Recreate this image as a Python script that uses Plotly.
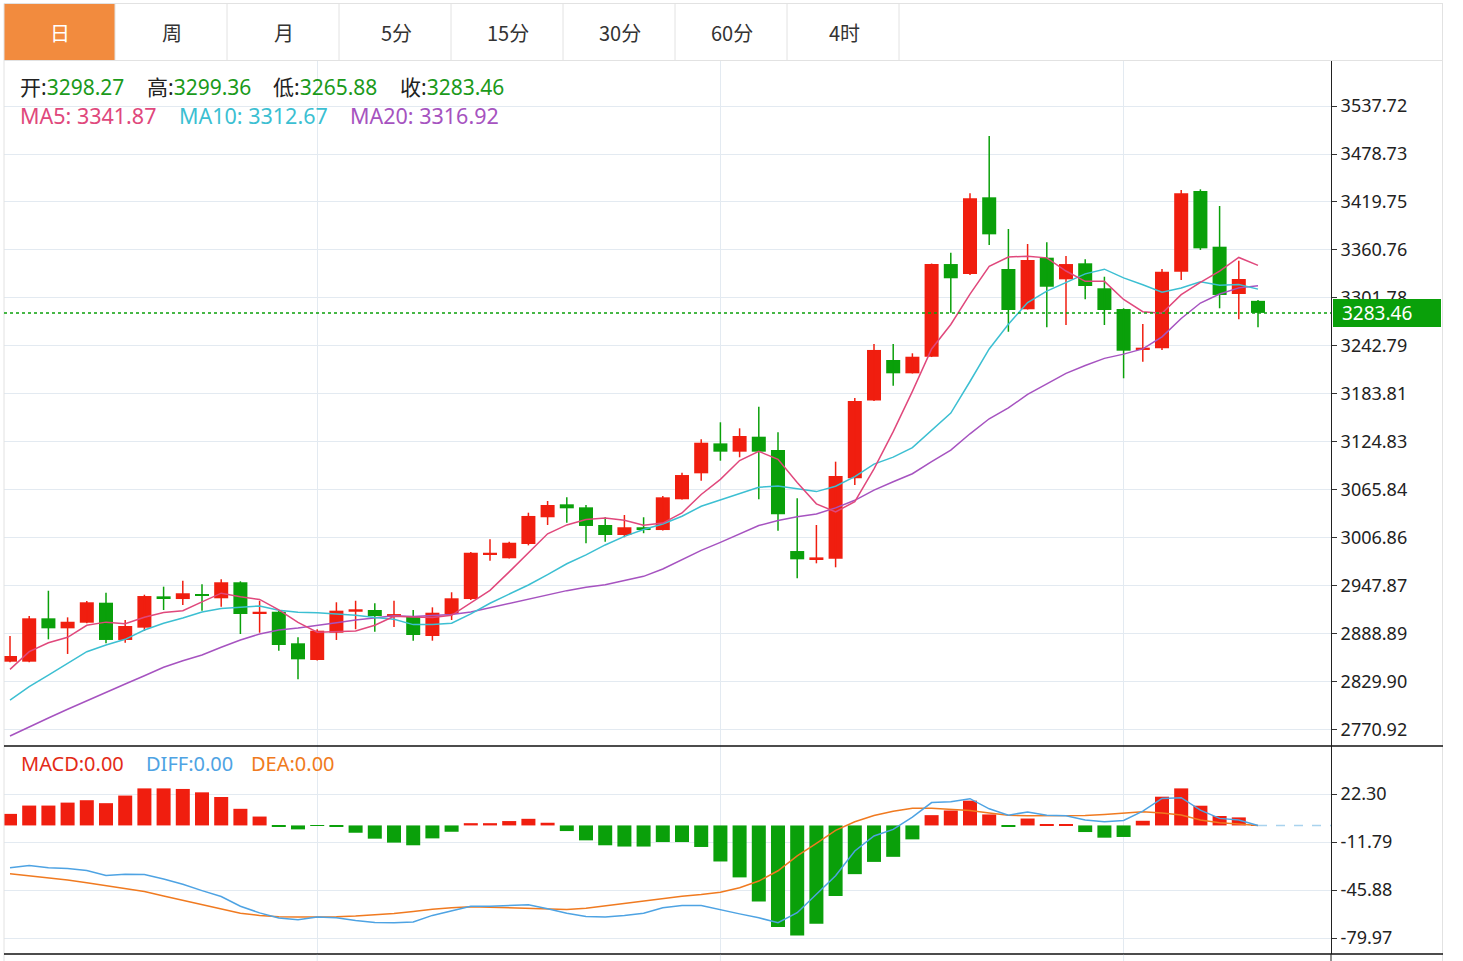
import plotly.graph_objects as go

W, H = 1463, 961

# ---------------- data ----------------
days = list(range(66))

opens = [2854.8, 2854.8, 2908.1, 2895.8, 2902.7, 2927.3, 2881.5, 2896.6, 2934.7, 2931.8,
         2938.0, 2932.7, 2952.4, 2913.4, 2916.2, 2877.4, 2856.9, 2890.4, 2916.2, 2918.3,
         2910.9, 2910.9, 2886.4, 2913.4, 2931.8, 2985.9, 2981.9, 2999.4, 3032.3, 3048.2,
         3044.5, 3022.8, 3010.5, 3020.0, 3016.6, 3054.4, 3086.3, 3123.1, 3112.9, 3131.3,
         3115.0, 2990.8, 2980.6, 2981.4, 3080.2, 3175.8, 3225.6, 3209.2, 3229.6, 3343.5,
         3331.2, 3425.5, 3337.4, 3287.9, 3351.3, 3324.7, 3344.4, 3313.7, 3288.2, 3237.9,
         3239.9, 3334.1, 3433.3, 3364.8, 3306.7, 3298.27]
highs = [2886.4, 2910.9, 2942.0, 2909.3, 2929.4, 2939.6, 2906.0, 2937.1, 2947.0, 2954.3,
         2949.9, 2956.0, 2953.6, 2929.7, 2917.5, 2884.8, 2894.6, 2927.8, 2929.7, 2926.6,
         2929.7, 2918.3, 2921.6, 2940.1, 2989.6, 3005.2, 3002.3, 3037.9, 3052.3, 3056.8,
         3047.4, 3032.3, 3035.1, 3032.3, 3058.4, 3087.1, 3128.1, 3149.0, 3141.6, 3168.2,
         3136.7, 3055.6, 3022.8, 3100.6, 3178.9, 3245.2, 3245.2, 3233.8, 3344.1, 3357.4,
         3430.4, 3500.9, 3386.6, 3368.1, 3370.2, 3353.4, 3349.3, 3327.9, 3289.1, 3269.8,
         3337.4, 3434.5, 3435.3, 3414.8, 3347.6, 3299.36]
lows = [2854.0, 2854.0, 2882.3, 2864.3, 2902.0, 2877.4, 2878.2, 2892.5, 2918.3, 2924.5,
        2917.5, 2922.4, 2888.8, 2890.4, 2868.3, 2833.2, 2856.3, 2881.5, 2894.7, 2891.6,
        2897.4, 2880.6, 2880.6, 2906.0, 2930.6, 2978.9, 2981.5, 2997.8, 3022.8, 3025.6,
        3000.3, 3002.3, 3007.7, 3012.7, 3016.0, 3054.2, 3077.2, 3101.8, 3106.0, 3054.4,
        3015.8, 2957.3, 2975.7, 2970.8, 3071.9, 3175.2, 3194.0, 3209.0, 3229.2, 3283.7,
        3330.0, 3366.9, 3260.3, 3287.6, 3265.8, 3268.6, 3300.2, 3268.6, 3203.1, 3223.5,
        3237.9, 3323.9, 3360.8, 3289.1, 3275.6, 3265.88]
closes = [2861.8, 2908.1, 2895.8, 2903.9, 2927.8, 2881.5, 2898.7, 2935.5, 2932.7, 2938.9,
          2935.5, 2952.4, 2913.4, 2916.2, 2875.3, 2857.7, 2892.9, 2917.5, 2919.2, 2910.9,
          2913.0, 2887.6, 2915.0, 2932.7, 2988.7, 2988.7, 3001.0, 3033.9, 3047.4, 3043.3,
          3021.6, 3010.5, 3020.0, 3016.6, 3056.8, 3084.2, 3123.9, 3112.9, 3132.2, 3112.9,
          3036.0, 2980.6, 2982.2, 3083.0, 3175.2, 3237.9, 3209.2, 3229.6, 3343.5, 3326.0,
          3424.3, 3380.0, 3287.0, 3348.5, 3315.6, 3343.5, 3316.5, 3287.0, 3237.0, 3240.7,
          3334.1, 3430.4, 3362.8, 3305.5, 3325.1, 3283.46]

ma5 = [2845.4, 2867.1, 2878.1, 2884.8, 2899.48, 2903.42, 2901.54, 2909.48, 2915.24, 2917.46,
       2928.26, 2939.0, 2934.58, 2931.28, 2918.56, 2903.0, 2891.1, 2891.92, 2892.52, 2899.64,
       2910.7, 2909.64, 2909.14, 2911.84, 2927.4, 2942.54, 2965.22, 2989.0, 3011.94, 3022.86,
       3029.44, 3031.34, 3028.56, 3022.4, 3025.1, 3037.62, 3060.3, 3078.88, 3102.0, 3113.22,
       3103.58, 3074.92, 3048.78, 3038.94, 3051.4, 3091.78, 3137.5, 3186.98, 3239.08, 3269.24,
       3306.52, 3340.68, 3352.16, 3353.16, 3351.08, 3334.92, 3322.22, 3322.22, 3299.92, 3284.94,
       3283.06, 3305.84, 3321.0, 3334.7, 3351.58, 3341.87]
ma10 = [2807.7, 2824.1, 2838.4, 2852.8, 2867.1, 2875.3, 2882.3, 2893.7, 2902.0, 2908.47,
        2915.84, 2920.27, 2922.03, 2923.26, 2918.01, 2915.63, 2915.05, 2913.25, 2911.9, 2909.1,
        2906.85, 2900.37, 2900.53, 2902.18, 2913.52, 2926.62, 2937.43, 2949.07, 2961.89, 2975.13,
        2985.99, 2998.28, 3008.78, 3017.17, 3023.98, 3033.53, 3045.82, 3053.72, 3062.2, 3069.16,
        3070.6, 3067.61, 3063.83, 3070.47, 3082.31, 3097.68, 3106.21, 3117.88, 3139.01, 3160.32,
        3199.15, 3239.09, 3269.57, 3296.12, 3310.16, 3320.72, 3331.45, 3337.19, 3326.54, 3318.01,
        3308.99, 3314.03, 3321.61, 3317.31, 3318.26, 3312.67]
ma20 = [2763.5, 2774.9, 2785.6, 2796.3, 2806.9, 2817.2, 2827.4, 2837.6, 2847.9, 2856.0,
        2863.0, 2872.5, 2881.5, 2888.8, 2893.7, 2896.2, 2899.0, 2902.7, 2906.0, 2908.79,
        2911.35, 2910.32, 2911.28, 2912.72, 2915.77, 2921.13, 2926.24, 2931.16, 2936.9, 2942.12,
        2946.42, 2949.33, 2954.66, 2959.68, 2968.75, 2980.08, 2991.63, 3001.4, 3012.05, 3022.15,
        3028.3, 3032.95, 3036.31, 3043.82, 3053.15, 3065.61, 3076.02, 3085.8, 3100.61, 3114.74,
        3134.88, 3153.35, 3166.7, 3183.3, 3196.24, 3209.2, 3218.83, 3227.54, 3232.78, 3239.17,
        3254.07, 3276.56, 3295.59, 3306.72, 3314.21, 3316.92]

macd_hist = [8.2, 14.1, 14.1, 16.2, 17.9, 15.8, 21.2, 26.3, 26.3, 25.9,
             23.5, 20.2, 11.8, 6.3, -0.9, -2.8, -0.3, -0.5, -5.2, -9.4,
             -12.2, -14.1, -9.2, -4.5, 1.6, 1.6, 3.1, 4.7, 1.9, -4.0,
             -10.6, -14.1, -15.0, -15.0, -11.8, -11.8, -15.3, -25.6, -36.9, -54.1,
             -72.2, -78.1, -69.8, -50.1, -34.6, -25.9, -22.3, -9.9, 7.3, 10.6,
             17.6, 7.8, -0.7, 4.9, 0.9, 0.9, -4.7, -8.7, -8.2, 3.3,
             20.4, 26.3, 14.0, 6.7, 5.7, 0.3]
diff = [-30.1, -28.4, -30.1, -30.6, -32.0, -35.5, -34.6, -34.8, -38.1, -41.8,
        -46.3, -50.5, -57.4, -62.1, -65.8, -67.0, -65.1, -65.6, -67.5, -68.9,
        -69.1, -68.6, -63.9, -60.4, -57.4, -57.4, -56.9, -56.4, -59.2, -62.3,
        -64.7, -65.1, -63.9, -62.3, -58.5, -56.9, -56.9, -60.0, -62.8, -65.6,
        -69.1, -62.0, -49.0, -35.7, -18.1, -7.5, -2.8, 5.9, 16.2, 16.9,
        19.0, 11.8, 7.3, 9.6, 7.3, 6.8, 3.8, 2.6, 3.5, 10.1,
        19.2, 19.7, 10.9, 5.0, 3.8, 0.0]
dea = [-34.3, -35.7, -37.1, -38.8, -40.7, -42.8, -44.7, -47.0, -50.1, -53.1,
       -56.2, -59.2, -62.3, -63.9, -64.9, -65.1, -65.1, -64.9, -64.4, -63.7,
       -62.5, -61.1, -59.5, -58.5, -57.8, -58.1, -58.5, -59.0, -59.7, -59.7,
       -58.8, -57.1, -55.5, -53.6, -52.0, -50.3, -49.1, -47.5, -44.2, -39.5,
       -32.2, -21.6, -12.7, -3.5, 2.6, 7.1, 10.1, 12.2, 12.2, 11.3,
       10.6, 8.9, 7.3, 6.8, 6.8, 6.8, 7.1, 7.8, 8.5, 9.7,
       8.9, 7.4, 3.8, 1.9, 1.0, 0.0]

price_ticks = [2770.92, 2829.90, 2888.89, 2947.87, 3006.86, 3065.84, 3124.83,
               3183.81, 3242.79, 3301.78, 3360.76, 3419.75, 3478.73, 3537.72]
macd_ticks = [22.30, -11.79, -45.88, -79.97]
tabs = ["日", "周", "月", "5分", "15分", "30分", "60分", "4时"]
month_marks = [16, 37, 58]
last_price = 3283.46
header_ohlc = [("开", "3298.27"), ("高", "3299.36"), ("低", "3265.88"), ("收", "3283.46")]
header_ma = [("MA5", "3341.87"), ("MA10", "3312.67"), ("MA20", "3316.92")]
header_macd = [("MACD", "0.00"), ("DIFF", "0.00"), ("DEA", "0.00")]

# ---------------- styling ----------------
RED = "#f01e0f"
GREEN = "#0aa00a"
C_MA5, C_MA10, C_MA20 = "#e0487c", "#3cbfd2", "#a653c0"
C_DIFF, C_DEA, C_MACD = "#4ea3e3", "#f07a20", "#e32b17"
GRID = "#e3eaf1"
BORDER = "#e2e2e2"
NUM_FONT = "Noto Sans, Noto Sans CJK SC"
CJK_FONT = "Noto Sans CJK SC, Noto Sans"


def px(x):
    return x / W


def py(y):
    return 1 - y / H


X_RANGE = [(4 - 10) / 19.2, (1331 - 10) / 19.2]
PRICE_PER_PX = (3594.25 - 2751.19) / 686.0

fig = go.Figure()

# candle bodies and wicks
n = len(days)
body_base = [min(opens[i], closes[i]) for i in range(n)]
body_h = [max(abs(closes[i] - opens[i]), 2.4) for i in range(n)]
body_col = [RED if closes[i] >= opens[i] else GREEN for i in range(n)]
fig.add_trace(go.Bar(x=days, y=body_h, base=body_base, marker=dict(color=body_col, line=dict(width=0)),
                     width=0.73, xaxis="x", yaxis="y", hoverinfo="skip"))

for col, sel in ((RED, [i for i in range(n) if closes[i] >= opens[i]]),
                 (GREEN, [i for i in range(n) if closes[i] < opens[i]])):
    wx, wy = [], []
    for i in sel:
        wx += [days[i], days[i], None]
        wy += [lows[i], highs[i], None]
    fig.add_trace(go.Scatter(x=wx, y=wy, mode="lines", line=dict(color=col, width=1.5),
                             xaxis="x", yaxis="y", hoverinfo="skip"))

for vals, col in ((ma20, C_MA20), (ma10, C_MA10), (ma5, C_MA5)):
    fig.add_trace(go.Scatter(x=days, y=vals, mode="lines", line=dict(color=col, width=1.5),
                             xaxis="x", yaxis="y", hoverinfo="skip"))

# MACD pane
fig.add_trace(go.Bar(x=days, y=macd_hist, width=0.73,
                     marker=dict(color=[RED if v >= 0 else GREEN for v in macd_hist], line=dict(width=0)),
                     xaxis="x2", yaxis="y2", hoverinfo="skip"))
fig.add_trace(go.Scatter(x=days, y=dea, mode="lines", line=dict(color=C_DEA, width=1.5),
                         xaxis="x2", yaxis="y2", hoverinfo="skip"))
fig.add_trace(go.Scatter(x=days, y=diff, mode="lines", line=dict(color=C_DIFF, width=1.5),
                         xaxis="x2", yaxis="y2", hoverinfo="skip"))

axis_common_x = dict(range=X_RANGE, domain=[px(4), px(1331)], tickvals=month_marks,
                     showticklabels=False, ticks="", showgrid=True, gridcolor=GRID, gridwidth=1,
                     zeroline=False, showline=False, fixedrange=True)

fig.update_layout(
    width=W, height=H, margin=dict(l=0, r=0, t=0, b=0),
    paper_bgcolor="white", plot_bgcolor="white", showlegend=False,
    barmode="overlay", hovermode=False,
    font=dict(family=NUM_FONT, color="#222"),
    xaxis=dict(anchor="y", **axis_common_x),
    xaxis2=dict(anchor="y2", matches="x", **axis_common_x),
    yaxis=dict(domain=[py(746), py(60)], range=[2751.19, 3594.25], side="right", anchor="x",
               tickvals=price_ticks, ticktext=[f"{v:.2f}" for v in price_ticks],
               ticks="outside", ticklen=5, tickcolor="#333", tickfont=dict(size=18, color="#222"),
               showgrid=True, gridcolor=GRID, zeroline=False, showline=True,
               linecolor="#222", linewidth=1, fixedrange=True),
    yaxis2=dict(domain=[py(954), py(746)], range=[-91.3, 56.4], side="right", anchor="x2",
                tickvals=macd_ticks, ticktext=[f"{v:.2f}" for v in macd_ticks],
                ticks="outside", ticklen=5, tickcolor="#333", tickfont=dict(size=18, color="#222"),
                showgrid=True, gridcolor=GRID, zeroline=False, showline=True,
                linecolor="#222", linewidth=1, fixedrange=True),
)

shapes = []
# tab bar
shapes.append(dict(type="rect", xref="paper", yref="paper", x0=px(4), x1=px(115), y0=py(60), y1=py(4),
                   fillcolor="#f28b3e", line=dict(width=0), layer="below"))
for xs in [115, 227, 339, 451, 563, 675, 787, 899]:
    shapes.append(dict(type="line", xref="paper", yref="paper", x0=px(xs), x1=px(xs), y0=py(4), y1=py(60),
                       line=dict(color=BORDER, width=1)))
shapes.append(dict(type="line", xref="paper", yref="paper", x0=px(4), x1=px(1443), y0=py(3.5), y1=py(3.5),
                   line=dict(color=BORDER, width=1)))
shapes.append(dict(type="line", xref="paper", yref="paper", x0=px(4), x1=px(1443), y0=py(60.5), y1=py(60.5),
                   line=dict(color=BORDER, width=1)))
shapes.append(dict(type="line", xref="paper", yref="paper", x0=px(4), x1=px(4), y0=py(3.5), y1=py(961),
                   line=dict(color=BORDER, width=1)))
shapes.append(dict(type="line", xref="paper", yref="paper", x0=px(1442.5), x1=px(1442.5), y0=py(3.5), y1=py(961),
                   line=dict(color=BORDER, width=1)))
# pane separators
for yy in (746, 954):
    shapes.append(dict(type="line", xref="paper", yref="paper", x0=px(4), x1=px(1443), y0=py(yy), y1=py(yy),
                       line=dict(color="#111", width=1.5)))
# right axis line down to bottom
shapes.append(dict(type="line", xref="paper", yref="paper", x0=px(1331), x1=px(1331), y0=py(954), y1=py(961),
                   line=dict(color="#222", width=1)))
for m in month_marks:
    shapes.append(dict(type="line", xref="x", yref="paper", x0=m, x1=m, y0=py(954.8), y1=py(961),
                       line=dict(color=GRID, width=1)))
# last price line
shapes.append(dict(type="line", xref="x", yref="y", x0=X_RANGE[0], x1=X_RANGE[1], y0=last_price, y1=last_price,
                   line=dict(color=GREEN, width=1.5, dash="dot")))
# last price label box (over the axis labels)
shapes.append(dict(type="rect", xref="paper", yref="y", x0=px(1333), x1=px(1441),
                   y0=last_price - 14 * PRICE_PER_PX, y1=last_price + 14 * PRICE_PER_PX,
                   fillcolor=GREEN, line=dict(width=0), layer="above"))
# MACD zero dashed line after last bar
shapes.append(dict(type="line", xref="x2", yref="y2", x0=days[-1], x1=X_RANGE[1], y0=0, y1=0,
                   line=dict(color="#a9d3ee", width=1.5, dash="dash")))
fig.update_layout(shapes=shapes)

ann = []
for k, t in enumerate(tabs):
    ann.append(dict(xref="paper", yref="paper", x=px(60 + 112 * k), y=py(33), text=t, showarrow=False,
                    xanchor="center", yanchor="middle",
                    font=dict(family=CJK_FONT, size=20, color="white" if k == 0 else "#333")))
for (lab, val), left in zip(header_ohlc, [18, 145, 271, 398]):
    ann.append(dict(xref="paper", yref="paper", x=px(left), y=py(87), showarrow=False,
                    xanchor="left", yanchor="middle",
                    text=f'<span style="color:#222">{lab}:</span><span style="color:#1b9a1b">{val}</span>',
                    font=dict(family=NUM_FONT, size=21)))
for (lab, val), left, col in zip(header_ma, [18, 177, 348], [C_MA5, C_MA10, C_MA20]):
    ann.append(dict(xref="paper", yref="paper", x=px(left), y=py(115), showarrow=False,
                    xanchor="left", yanchor="middle", text=f"{lab}: {val}",
                    font=dict(family=NUM_FONT, size=21.5, color=col)))
for (lab, val), left, col in zip(header_macd, [19, 144, 249], [C_MACD, C_DIFF, C_DEA]):
    ann.append(dict(xref="paper", yref="paper", x=px(left), y=py(763), showarrow=False,
                    xanchor="left", yanchor="middle", text=f"{lab}:{val}",
                    font=dict(family=NUM_FONT, size=20, color=col)))
ann.append(dict(xref="paper", yref="y", x=px(1340), y=last_price, showarrow=False,
                xanchor="left", yanchor="middle", text=f"{last_price:.2f}",
                font=dict(family=NUM_FONT, size=19, color="white")))
fig.update_layout(annotations=ann)

fig.write_html("out.html", config={"displayModeBar": False},
               post_script="document.body.style.margin='0';document.body.style.overflow='hidden';")
